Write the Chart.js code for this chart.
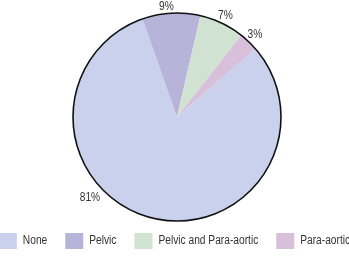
<!DOCTYPE html>
<html>
<head>
<meta charset="utf-8">
<script src="https://cdn.jsdelivr.net/npm/chart.js@4"></script>
<style>
  html, body { margin: 0; padding: 0; background: #fff; }
  #wrap { width: 349px; height: 256px; }
</style>
</head>
<body>
<div id="wrap"><canvas id="chart1"></canvas></div>
<script>
// Lymph node involvement
const categories = ["None", "Pelvic", "Pelvic and Para-aortic", "Para-aortic"];
const percents = [81, 9, 7, 3];
const colors = ['#c9d1ec', '#b8b4d9', '#d0e2d2', '#d8c0da'];
// where the percent label sits (degrees clockwise from top), null = slice middle
const labelAngles = [227, -5.5, null, null];
const labelGap = [15, 7, 8, 9];

const FONT = '12px "Liberation Sans", Arial, sans-serif';
const SQUEEZE = 0.85; // original text is a condensed face

function textW(ctx, t) {
    return ctx.measureText(t).width * SQUEEZE;
}
function drawText(ctx, t, x, y, align) {
    const w = textW(ctx, t);
    let left = x;
    if (align === 'center') left = x - w / 2;
    ctx.save();
    ctx.translate(left, y);
    ctx.scale(SQUEEZE, 1);
    ctx.textAlign = 'left';
    ctx.fillText(t, 0, 0);
    ctx.restore();
}

// outer ring, percent labels and the legend row
const pieDecor = {
    id: 'pieDecor',
    afterDatasetsDraw(chart) {
        const ctx = chart.ctx;
        const meta = chart.getDatasetMeta(0);
        const arc0 = meta.data[0];
        const cx = arc0.x, cy = arc0.y, r = arc0.outerRadius;
        ctx.save();
        ctx.beginPath();
        ctx.arc(cx, cy, r, 0, Math.PI * 2);
        ctx.strokeStyle = '#111';
        ctx.lineWidth = 1.6;
        ctx.stroke();

        ctx.font = FONT;
        ctx.fillStyle = '#333';
        ctx.textBaseline = 'middle';
        meta.data.forEach((arc, i) => {
            let a;
            if (labelAngles[i] !== null) {
                a = (labelAngles[i] - 90) * Math.PI / 180;
            } else {
                a = (arc.startAngle + arc.endAngle) / 2;
            }
            const d = r + labelGap[i];
            drawText(ctx, percents[i] + '%', cx + Math.cos(a) * d, cy + Math.sin(a) * d, 'center');
        });

        // legend
        const boxW = 18, boxH = 16, gap = 6, pad = 18;
        const widths = categories.map(t => textW(ctx, t));
        let total = 0;
        widths.forEach((w, i) => { total += boxW + gap + w + (i ? pad : 0); });
        let x = (chart.width - total) / 2;
        const yMid = 241;
        categories.forEach((t, i) => {
            ctx.fillStyle = colors[i];
            ctx.fillRect(x, yMid - boxH / 2, boxW, boxH);
            ctx.fillStyle = '#333';
            drawText(ctx, t, x + boxW + gap, yMid, 'left');
            x += boxW + gap + widths[i] + pad;
        });
        ctx.restore();
    }
};

new Chart(document.getElementById('chart1'), {
    type: 'pie',
    data: {
        labels: categories,
        datasets: [{
            data: percents,
            backgroundColor: colors,
            borderWidth: 0
        }]
    },
    options: {
        responsive: true,
        maintainAspectRatio: false,
        animation: false,
        rotation: 49,
        layout: { padding: { top: 13, bottom: 35, left: 5 } },
        plugins: {
            tooltip: { enabled: false },
            legend: { display: false }
        }
    },
    plugins: [pieDecor]
});
</script>
</body>
</html>
